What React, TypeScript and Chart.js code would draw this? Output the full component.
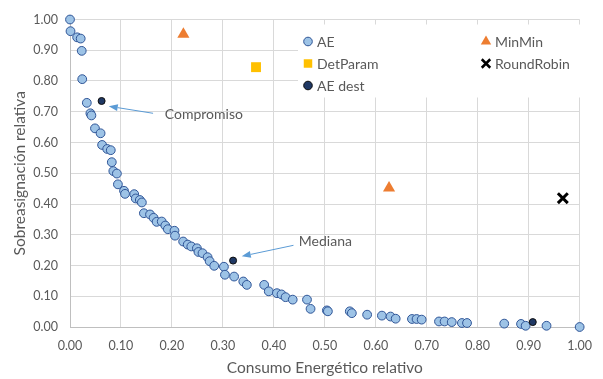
import React, { useEffect, useRef } from 'react';
import { Chart, registerables } from 'chart.js';

Chart.register(...registerables);

// Relative energy (x) vs relative over-allocation (y)
const aeX = [
  0.0, 0.001, 0.014, 0.021, 0.023, 0.024, 0.033, 0.04, 0.042, 0.049,
  0.06, 0.063, 0.073, 0.08, 0.082, 0.085, 0.092, 0.094, 0.106, 0.108,
  0.126, 0.129, 0.137, 0.141, 0.145, 0.157, 0.164, 0.17, 0.18, 0.187,
  0.192, 0.205, 0.206, 0.222, 0.231, 0.238, 0.249, 0.252, 0.26, 0.27,
  0.274, 0.283, 0.302, 0.304, 0.322, 0.34, 0.347, 0.381, 0.39, 0.406,
  0.415, 0.423, 0.437, 0.465, 0.472, 0.504, 0.506, 0.549, 0.553, 0.583,
  0.612, 0.629, 0.639, 0.671, 0.68, 0.69, 0.724, 0.735, 0.749, 0.769,
  0.779, 0.852, 0.885, 0.894, 0.935, 1.0,
];
const aeY = [
  1.0, 0.962, 0.942, 0.938, 0.898, 0.806, 0.729, 0.695, 0.688, 0.646,
  0.63, 0.592, 0.579, 0.575, 0.536, 0.507, 0.499, 0.464, 0.443, 0.433,
  0.432, 0.418, 0.413, 0.405, 0.37, 0.366, 0.355, 0.342, 0.343, 0.33,
  0.318, 0.313, 0.297, 0.278, 0.268, 0.262, 0.256, 0.244, 0.24, 0.227,
  0.214, 0.199, 0.196, 0.17, 0.164, 0.148, 0.137, 0.137, 0.116, 0.11,
  0.106, 0.097, 0.089, 0.089, 0.059, 0.054, 0.051, 0.051, 0.045, 0.04,
  0.037, 0.034, 0.027, 0.026, 0.026, 0.024, 0.018, 0.018, 0.016, 0.013,
  0.013, 0.011, 0.01, 0.004, 0.004, 0.0,
];

const minMinX = [0.2225, 0.626];
const minMinY = [0.952, 0.452];

const detParamX = [0.365];
const detParamY = [0.845];

const roundRobinX = [0.967];
const roundRobinY = [0.419];

const aeDestX = [0.062, 0.32, 0.908];
const aeDestY = [0.735, 0.216, 0.016];

const tickStep = 0.1;

// Callout labels with an arrow pointing at a chosen solution
const calloutText = ['Compromiso', 'Mediana'];
const calloutTextX = [0.186, 0.449];
const calloutTextY = [0.6925, 0.277];
const calloutFromX = [0.163, 0.4385];
const calloutFromY = [0.695, 0.2656];
const calloutToX = [0.076, 0.337];
const calloutToY = [0.718, 0.23];

const FONT = 'Lato, "Open Sans", sans-serif';
const TEXT = '#595959';

const toPoints = (xs: number[], ys: number[]) => xs.map((x, i) => ({ x, y: ys[i] }));

type MarkerStyle = {
  pointStyle: string;
  backgroundColor: string;
  borderColor: string;
  borderWidth: number;
};

function drawMarker(ctx: CanvasRenderingContext2D, s: MarkerStyle, x: number, y: number, r: number) {
  ctx.save();
  ctx.fillStyle = s.backgroundColor;
  ctx.strokeStyle = s.borderColor;
  ctx.lineWidth = s.borderWidth;
  ctx.beginPath();
  if (s.pointStyle === 'circle') {
    ctx.arc(x, y, r, 0, Math.PI * 2);
    ctx.fill();
    ctx.stroke();
  } else if (s.pointStyle === 'triangle') {
    const h = r * Math.sin(Math.PI / 3);
    ctx.moveTo(x, y - r);
    ctx.lineTo(x + h, y + r / 2);
    ctx.lineTo(x - h, y + r / 2);
    ctx.closePath();
    ctx.fill();
  } else if (s.pointStyle === 'rect') {
    const a = r * Math.SQRT1_2;
    ctx.fillRect(x - a, y - a, 2 * a, 2 * a);
  } else if (s.pointStyle === 'crossRot') {
    const a = r * Math.SQRT1_2;
    ctx.moveTo(x - a, y - a);
    ctx.lineTo(x + a, y + a);
    ctx.moveTo(x - a, y + a);
    ctx.lineTo(x + a, y - a);
    ctx.stroke();
  }
  ctx.restore();
}

const legendRadius: Record<string, number> = { circle: 4.3, triangle: 6, rect: 6, crossRot: 6 };

const boxLegend = {
  id: 'boxLegend',
  afterDatasetsDraw(chart: any) {
    const { ctx, chartArea } = chart;
    const left = chartArea.left + 228;
    const top = chartArea.top + 5;
    ctx.save();
    ctx.fillStyle = '#ffffff';
    ctx.fillRect(left, top, 289, 73);
    chart.data.datasets.forEach((ds: any, i: number) => {
      const col = i % 2;
      const row = Math.floor(i / 2);
      const mx = left + 10 + col * 178;
      const my = top + 17 + row * 22;
      const style: MarkerStyle = {
        pointStyle: ds.pointStyle,
        backgroundColor: ds.backgroundColor,
        borderColor: ds.borderColor,
        borderWidth: ds.pointStyle === 'crossRot' ? 2.5 : ds.borderWidth,
      };
      drawMarker(ctx, style, mx, my, legendRadius[ds.pointStyle]);
      ctx.fillStyle = TEXT;
      ctx.font = `14px ${FONT}`;
      ctx.textBaseline = 'middle';
      ctx.textAlign = 'left';
      ctx.fillText(ds.label, mx + 9, my + 1);
    });
    ctx.restore();
  },
};

const callouts = {
  id: 'callouts',
  afterDatasetsDraw(chart: any) {
    const { ctx } = chart;
    const xs = chart.scales.x;
    const ys = chart.scales.y;
    ctx.save();
    calloutText.forEach((label, i) => {
      const fx = xs.getPixelForValue(calloutFromX[i]);
      const fy = ys.getPixelForValue(calloutFromY[i]);
      const tx = xs.getPixelForValue(calloutToX[i]);
      const ty = ys.getPixelForValue(calloutToY[i]);
      const ang = Math.atan2(ty - fy, tx - fx);
      const len = 9;
      const half = 3.5;
      const bx = tx - Math.cos(ang) * len;
      const by = ty - Math.sin(ang) * len;
      ctx.strokeStyle = '#5B9BD5';
      ctx.fillStyle = '#5B9BD5';
      ctx.lineWidth = 1;
      ctx.beginPath();
      ctx.moveTo(fx, fy);
      ctx.lineTo(bx, by);
      ctx.stroke();
      ctx.beginPath();
      ctx.moveTo(tx, ty);
      ctx.lineTo(bx + Math.sin(ang) * half, by - Math.cos(ang) * half);
      ctx.lineTo(bx - Math.sin(ang) * half, by + Math.cos(ang) * half);
      ctx.closePath();
      ctx.fill();

      ctx.fillStyle = TEXT;
      ctx.font = `14px ${FONT}`;
      ctx.textBaseline = 'middle';
      ctx.textAlign = 'left';
      ctx.fillText(label, xs.getPixelForValue(calloutTextX[i]), ys.getPixelForValue(calloutTextY[i]));
    });
    ctx.restore();
  },
};

export default function App() {
  const canvasRef = useRef<HTMLCanvasElement | null>(null);

  useEffect(() => {
    if (!canvasRef.current) return;
    const chart = new Chart(canvasRef.current, {
      type: 'scatter',
      data: {
        datasets: [
          {
            label: 'AE',
            data: toPoints(aeX, aeY),
            pointStyle: 'circle',
            pointRadius: 4.4,
            backgroundColor: '#9DC3E6',
            borderColor: '#2F5597',
            borderWidth: 1,
            order: 1,
            clip: false,
          },
          {
            label: 'MinMin',
            data: toPoints(minMinX, minMinY),
            pointStyle: 'triangle',
            pointRadius: 7,
            backgroundColor: '#ED7D31',
            borderColor: '#ED7D31',
            borderWidth: 0,
            clip: false,
          },
          {
            label: 'DetParam',
            data: toPoints(detParamX, detParamY),
            pointStyle: 'rect',
            pointRadius: 7,
            backgroundColor: '#FFC000',
            borderColor: '#FFC000',
            borderWidth: 0,
            clip: false,
          },
          {
            label: 'RoundRobin',
            data: toPoints(roundRobinX, roundRobinY),
            pointStyle: 'crossRot',
            pointRadius: 7,
            backgroundColor: '#000000',
            borderColor: '#000000',
            borderWidth: 3,
            clip: false,
          },
          {
            label: 'AE dest',
            data: toPoints(aeDestX, aeDestY),
            pointStyle: 'circle',
            pointRadius: 3.5,
            backgroundColor: '#1F3864',
            borderColor: '#0D0D0D',
            borderWidth: 1,
            clip: false,
          },
        ] as any,
      },
      options: {
        animation: false,
        responsive: true,
        maintainAspectRatio: false,
        layout: { padding: { left: 0, right: 13, top: 19, bottom: 0 } },
        plugins: {
          legend: { display: false },
          tooltip: { enabled: false },
        },
        scales: {
          x: {
            type: 'linear',
            min: 0,
            max: 1,
            afterFit: (scale: any) => {
              scale.height = 52;
            },
            ticks: {
              stepSize: tickStep,
              padding: 11,
              color: TEXT,
              font: { family: FONT, size: 12.5 },
              callback: (v: any) => Number(v).toFixed(2),
            },
            grid: { color: '#D9D9D9', drawTicks: false },
            border: { color: '#BFBFBF' },
            title: {
              display: true,
              text: 'Consumo Energético relativo',
              color: TEXT,
              font: { family: FONT, size: 15.5 },
              padding: { top: 0, bottom: 2 },
            },
          },
          y: {
            type: 'linear',
            min: 0,
            max: 1,
            afterFit: (scale: any) => {
              scale.width = 70;
            },
            ticks: {
              stepSize: tickStep,
              padding: 12,
              color: TEXT,
              font: { family: FONT, size: 12.5 },
              callback: (v: any) => Number(v).toFixed(2),
            },
            grid: { color: '#D9D9D9', drawTicks: false },
            border: { color: '#BFBFBF' },
            title: {
              display: true,
              text: 'Sobreasignación relativa',
              color: TEXT,
              font: { family: FONT, size: 15.5 },
              padding: { top: 11, bottom: 0 },
            },
          },
        },
      },
      plugins: [boxLegend, callouts],
    });
    return () => chart.destroy();
  }, []);

  return (
    <div style={{ position: 'absolute', left: 0, top: 0, width: 603, height: 379, background: '#fff' }}>
      <canvas ref={canvasRef} />
    </div>
  );
}
